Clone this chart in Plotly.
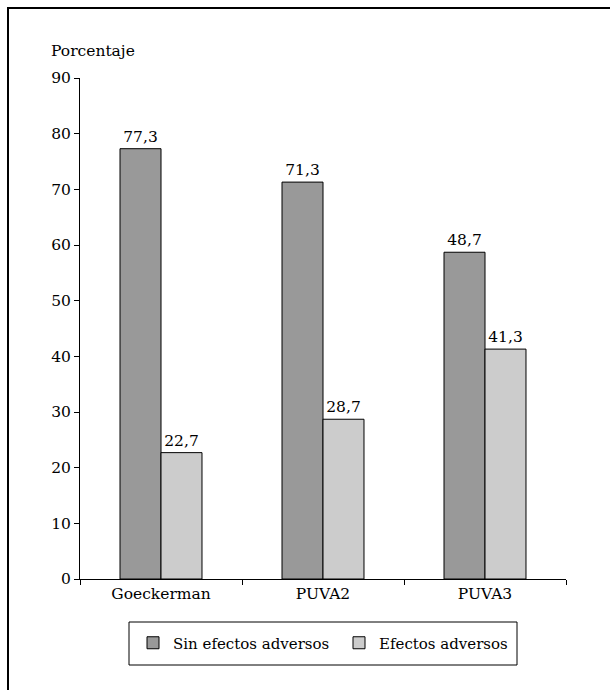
import plotly.graph_objects as go

categories = ["Goeckerman", "PUVA2", "PUVA3"]
sin_efectos = [77.3, 71.3, 58.7]
sin_efectos_labels = ["77,3", "71,3", "48,7"]
efectos = [22.7, 28.7, 41.3]
efectos_labels = ["22,7", "28,7", "41,3"]
y_ticks = [0, 10, 20, 30, 40, 50, 60, 70, 80, 90]

FONT = "DejaVu Serif"
FS = 15.5
LFS = 15

W, H = 610, 690
L, R, T, B = 80, 44, 78, 111
pw = W - L - R
ph = H - T - B

def px(x):
    return (x - L) / pw

def py(y):
    return (H - B - y) / ph

fig = go.Figure()
fig.add_trace(go.Bar(
    x=categories, y=sin_efectos, name="Sin efectos adversos",
    marker=dict(color="#999999", line=dict(color="black", width=1)),
    text=sin_efectos_labels, textposition="outside", cliponaxis=False,
    constraintext="none",
    textfont=dict(family=FONT, size=FS, color="black"),
))
fig.add_trace(go.Bar(
    x=categories, y=efectos, name="Efectos adversos",
    marker=dict(color="#cccccc", line=dict(color="black", width=1)),
    text=efectos_labels, textposition="outside", cliponaxis=False,
    constraintext="none",
    textfont=dict(family=FONT, size=FS, color="black"),
))

fig.update_layout(
    width=W, height=H,
    margin=dict(l=L, r=R, t=T, b=B),
    paper_bgcolor="white", plot_bgcolor="white",
    barmode="group", bargap=0.494, bargroupgap=0,
    font=dict(family=FONT, size=FS, color="black"),
    showlegend=True,
    legend=dict(
        orientation="h", x=px(133), xanchor="left",
        y=py(643), yanchor="middle",
        bgcolor="rgba(0,0,0,0)", borderwidth=0,
        font=dict(family=FONT, size=LFS, color="black"),
        itemwidth=30, entrywidth=161,
    ),
    xaxis=dict(
        range=[-0.5, 2.5], showline=True, linecolor="black", linewidth=1,
        ticks="outside", tickson="boundaries", ticklen=5, tickcolor="black",
        showgrid=False, zeroline=False, fixedrange=True,
    ),
    yaxis=dict(
        range=[0, 90], tickvals=y_ticks, showline=True, linecolor="black",
        linewidth=1, ticks="outside", ticklen=5, tickcolor="black",
        showgrid=False, zeroline=False, fixedrange=True,
    ),
    shapes=[
        dict(type="line", xref="paper", yref="paper",
             x0=px(7), x1=px(612), y0=py(8), y1=py(8),
             line=dict(color="black", width=2)),
        dict(type="line", xref="paper", yref="paper",
             x0=px(8), x1=px(8), y0=py(7), y1=py(692),
             line=dict(color="black", width=2)),
        dict(type="rect", xref="paper", yref="paper",
             x0=px(129), x1=px(517), y0=py(665), y1=py(622),
             line=dict(color="black", width=1), fillcolor="rgba(0,0,0,0)"),
    ],
    annotations=[
        dict(text="Porcentaje", xref="paper", yref="paper",
             x=px(49), y=py(51), xanchor="left", yanchor="middle",
             showarrow=False, font=dict(family=FONT, size=FS, color="black")),
    ],
)

fig.write_html("out.html")
